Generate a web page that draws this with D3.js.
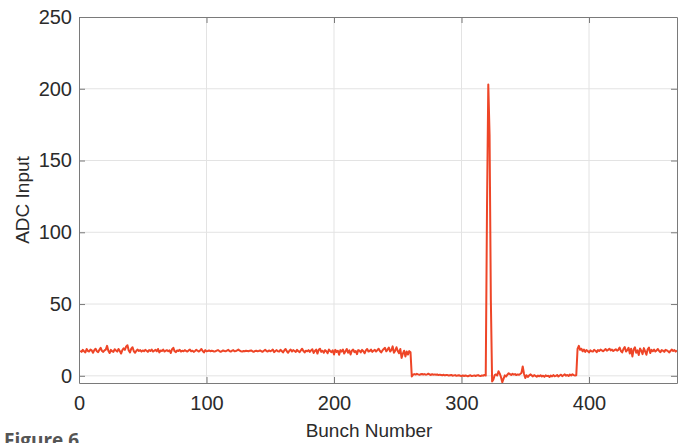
<!DOCTYPE html>
<html>
<head>
<meta charset="utf-8">
<script src="https://cdn.jsdelivr.net/npm/d3@7"></script>
<style>
  body { margin: 0; background: #fff; }
  svg { display: block; }
</style>
</head>
<body>
<svg id="chart" width="685" height="443"></svg>
<script>
/* ADC input per bunch in pieces */
const highBefore = [ // bunches 1-260
  17.5,16.7,18.1,17.1,16.3,18.7,17.3,16.9,18.3,17.7,16.1,17.9,18.9,17.1,16.5,18.1,19.5,17.3,16.7,17.7,
  18.3,20.9,17.5,15.9,18.1,17.1,16.7,18.5,17.7,16.9,18.7,17.3,15.5,17.9,19.1,18.1,20.5,21.3,17.7,16.3,
  18.9,19.9,17.1,16.1,17.5,18.3,17.3,17.9,16.9,17.7,17.1,18.1,17.5,16.7,17.9,17.3,18.3,16.9,17.5,18.1,
  17.1,18.7,16.3,17.7,17.3,18.3,16.9,17.5,17.9,17.1,17.7,15.9,18.5,19.5,17.1,16.5,17.7,17.3,18.1,16.9,
  17.5,17.1,17.9,17.3,16.9,17.7,18.3,17.1,17.5,16.7,17.3,18.1,17.5,16.9,17.7,18.7,17.3,16.3,17.9,17.1,
  17.3,17.7,17.1,17.5,17.3,16.9,17.1,17.5,17.9,17.3,16.7,17.1,17.7,17.3,17.1,17.5,18.1,17.3,16.9,17.5,
  17.9,17.1,17.3,17.7,18.3,17.5,17.1,16.9,17.3,17.1,17.5,17.3,17.1,17.5,17.7,17.1,16.7,17.3,17.5,17.1,
  17.3,17.7,17.1,16.7,17.5,18.1,17.3,16.9,17.7,17.1,17.5,18.3,16.5,17.3,17.9,17.1,16.9,18.1,17.3,16.3,
  17.7,18.7,17.1,16.1,17.5,18.3,16.9,17.9,17.3,16.7,18.1,17.1,16.5,17.7,18.9,17.3,16.3,17.5,17.1,17.9,
  16.7,17.7,18.5,15.9,17.3,18.3,15.5,18.1,18.9,16.7,17.5,16.1,17.9,17.1,15.7,18.3,17.3,16.5,17.7,14.9,
  18.1,16.7,17.5,14.7,17.9,16.9,18.3,15.5,17.1,18.7,16.1,17.7,14.9,17.5,18.3,16.5,17.3,15.1,17.9,17.5,
  16.3,18.1,17.1,15.7,17.7,18.7,16.9,17.3,18.3,16.7,17.5,18.1,16.9,17.9,18.9,17.3,16.3,17.7,18.7,19.5,
  17.1,18.3,19.7,16.9,17.9,20.5,16.1,17.5,19.9,17.3,15.7,18.7,12.5,15.5,17.5,13.5,17.0,14.8,17.2,16.4
];
const lowBefore = [ // bunches 261-319
  -0.5,0.8,1.2,0.9,1.4,1.0,0.7,1.1,1.3,0.9,
  1.2,0.8,1.0,1.5,0.9,0.6,1.1,0.8,1.0,0.7,
  0.9,0.5,0.8,0.6,0.4,0.7,0.3,0.6,0.5,0.2,
  0.4,0.6,0.1,0.3,0.5,0.0,0.2,0.4,0.1,-0.2,
  0.3,-0.1,0.2,0.0,-0.3,0.1,0.4,-0.2,0.0,0.3,
  -0.1,0.2,0.5,0.0,-0.2,0.3,0.1,0.6,0.2
];
const spike = [118, 203, 168, 53, -4]; // bunches 320-324
const lowAfter = [ // bunches 325-390
  -2.5,0.5,1.0,0.2,3.2,1.5,-1.0,-4.5,-2.0,0.3,
  -0.5,0.8,1.8,1.2,0.6,1.4,0.9,1.2,0.5,1.0,
  0.7,1.3,2.0,6.5,1.5,-1.5,0.4,-0.8,0.2,1.0,
  0.3,-0.4,0.5,0.0,-0.6,0.2,-0.3,0.4,-0.5,0.1,
  -0.7,0.3,-0.2,0.0,-0.8,0.2,-0.4,0.5,-0.3,0.0,
  0.6,-0.5,0.2,0.8,-0.2,0.4,1.0,0.1,0.6,-0.1,
  0.9,0.3,1.1,0.5,0.2,0.4
];
const highAfter = [ // bunches 391-469
  18.7,20.9,18.1,18.9,17.1,18.3,16.7,17.9,17.3,16.3,
  17.7,17.1,16.9,18.1,17.5,16.5,17.9,17.3,18.3,17.7,
  17.1,17.9,18.7,17.5,18.1,18.9,17.7,18.3,17.3,17.9,
  18.5,17.5,18.1,19.7,17.3,16.3,18.7,20.1,16.9,17.9,
  19.5,15.5,18.9,13.5,18.3,19.9,16.1,17.7,14.5,19.1,
  17.5,15.1,19.3,17.1,14.7,18.5,19.7,15.9,18.1,17.1,
  18.3,16.9,17.7,18.7,17.3,16.5,17.9,17.5,16.7,18.1,
  17.7,17.1,16.3,17.5,18.3,17.3,17.9,16.9,17.7
];
const adcInput = [].concat(highBefore, lowBefore, spike, lowAfter, highAfter);
const firstBunch = 1;

const xTicks = [0, 100, 200, 300, 400];
const yTicks = [0, 50, 100, 150, 200, 250];
const xLimits = [0, 469];
const yLimits = [-5, 250];

const svg = d3.select("#chart");
const W = 685, H = 443;
const margin = {top: 17, right: 8, bottom: 60, left: 79};
const w = W - margin.left - margin.right;
const h = H - margin.top - margin.bottom;

const x = d3.scaleLinear().domain(xLimits).range([0, w]);
const y = d3.scaleLinear().domain(yLimits).range([h, 0]);

const g = svg.append("g").attr("transform", `translate(${margin.left},${margin.top})`);

// grid
g.append("g").selectAll("line").data(xTicks.filter(d => d > xLimits[0]))
  .join("line")
  .attr("x1", d => x(d)).attr("x2", d => x(d))
  .attr("y1", 0).attr("y2", h)
  .attr("stroke", "#e3e3e3").attr("stroke-width", 1);
g.append("g").selectAll("line").data(yTicks.filter(d => d < yLimits[1]))
  .join("line")
  .attr("x1", 0).attr("x2", w)
  .attr("y1", d => y(d)).attr("y2", d => y(d))
  .attr("stroke", "#e3e3e3").attr("stroke-width", 1);

g.append("clipPath").attr("id", "plotclip")
  .append("rect").attr("width", w).attr("height", h);

const line = d3.line()
  .x((d, i) => x(firstBunch + i))
  .y(d => y(d));

g.append("path")
  .datum(adcInput)
  .attr("clip-path", "url(#plotclip)")
  .attr("fill", "none")
  .attr("stroke", "#ee4527")
  .attr("stroke-width", 2)
  .attr("stroke-linejoin", "round")
  .attr("d", line);

const font = "'Liberation Sans', Arial, Helvetica, sans-serif";
const axisColor = "#7a7a7a";
const textColor = "#2b2b2b";

function styleAxis(sel) {
  sel.selectAll(".domain").attr("stroke", axisColor);
  sel.selectAll(".tick line").attr("stroke", axisColor);
  sel.selectAll("text").attr("fill", textColor).style("font-family", font).style("font-size", "20px");
}

g.append("g").attr("transform", `translate(0,${h})`)
  .call(d3.axisBottom(x).tickValues(xTicks).tickSize(-6).tickSizeOuter(0).tickPadding(13))
  .call(styleAxis);
g.append("g")
  .call(d3.axisLeft(y).tickValues(yTicks).tickSize(-6).tickSizeOuter(0).tickPadding(7))
  .call(styleAxis);
g.append("g")
  .call(d3.axisTop(x).tickValues(xTicks).tickSize(-6).tickSizeOuter(0).tickFormat(""))
  .call(styleAxis);
g.append("g").attr("transform", `translate(${w},0)`)
  .call(d3.axisRight(y).tickValues(yTicks).tickSize(-6).tickSizeOuter(0).tickFormat(""))
  .call(styleAxis);

svg.append("text")
  .attr("x", 369).attr("y", 437)
  .attr("text-anchor", "middle")
  .attr("fill", textColor)
  .style("font-family", font).style("font-size", "19px")
  .text("Bunch Number");

svg.append("text")
  .attr("transform", `translate(29,${margin.top + h / 2}) rotate(-90)`)
  .attr("text-anchor", "middle")
  .attr("fill", textColor)
  .style("font-family", font).style("font-size", "19px")
  .text("ADC Input");

// caption, cut by the bottom edge as in the source page
svg.append("text")
  .attr("x", 4).attr("y", 447)
  .attr("fill", "#555")
  .style("font-family", "'Open Sans', sans-serif").style("font-size", "19px").style("font-weight", "bold")
  .text("Figure 6");
</script>
</body>
</html>
